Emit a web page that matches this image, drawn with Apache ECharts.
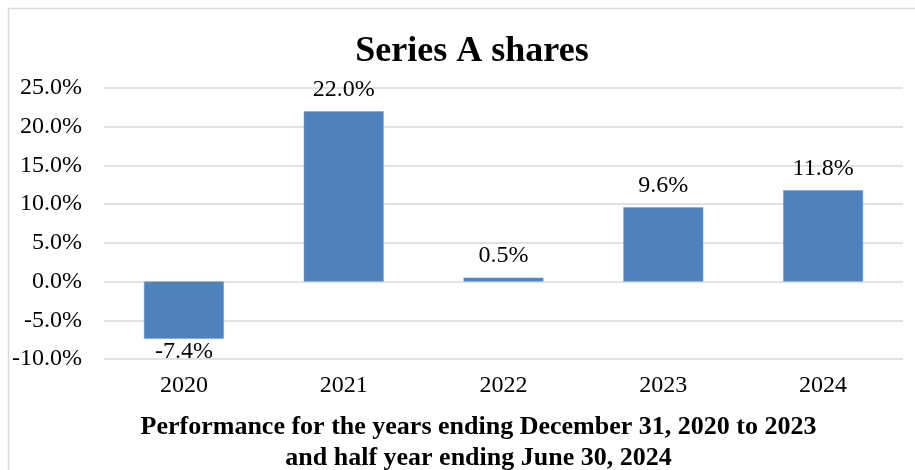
<!DOCTYPE html>
<html>
<head>
<meta charset="utf-8">
<script src="https://cdn.jsdelivr.net/npm/echarts@6/dist/echarts.min.js"></script>
<style>
  html, body { margin: 0; padding: 0; background: #fff; }
  #chart { width: 915px; height: 470px; }
</style>
</head>
<body>
<div id="chart"></div>
<script>
// 数据
const years = ['2020', '2021', '2022', '2023', '2024'];
const returns = [-7.4, 22.0, 0.5, 9.6, 11.8];
const yTicks = { min: -10, max: 25, interval: 5 };

const serif = '"Liberation Serif", "Times New Roman", serif';

function createChart(element, option) {
    let myChart = echarts.init(element); // 创建echart对象
    myChart.setOption(option); // 设置配置
    return myChart;
}

createChart(document.getElementById('chart'), {
    backgroundColor: '#fff',
    animation: false,
    title: {
        text: 'Series A shares',
        left: 467,
        top: 29,
        textAlign: 'center',
        textStyle: { fontFamily: serif, fontSize: 36, fontWeight: 'bold', color: '#000' }
    },
    graphic: [{
        type: 'rect',
        shape: { x: 8.5, y: 8.5, width: 930, height: 500 },
        style: { fill: null, stroke: '#d9d9d9', lineWidth: 1.5 },
        silent: true
    }],
    grid: { left: 104, right: 12, top: 88, bottom: 111, outerBoundsMode: 'none', containLabel: false },
    xAxis: {
        type: 'category',
        data: years,
        axisLine: { show: false, onZero: false },
        axisTick: { show: false },
        axisLabel: { fontFamily: serif, fontSize: 24, color: '#000', margin: 15 },
        name: 'Performance for the years ending December 31, 2020 to 2023\nand half year ending June 30, 2024',
        nameLocation: 'middle',
        nameGap: 53,
        nameTextStyle: {
            fontFamily: serif, fontSize: 26, fontWeight: 'bold', color: '#000',
            lineHeight: 31, padding: [0, 50, 0, 0], verticalAlign: 'top'
        }
    },
    yAxis: {
        type: 'value',
        min: yTicks.min,
        max: yTicks.max,
        interval: yTicks.interval,
        axisLine: { show: false },
        axisTick: { show: false },
        splitLine: { lineStyle: { color: '#d9d9d9', width: 1.5 } },
        axisLabel: {
            fontFamily: serif, fontSize: 24, color: '#000', margin: 22,
            formatter: v => v.toFixed(1) + '%'
        }
    },
    series: [{
        type: 'bar',
        data: returns.map(v => v < 0
            ? { value: v, label: { position: 'bottom', distance: 1 } }
            : v),
        barWidth: '50%',
        itemStyle: { color: '#4f81bd', borderColor: '#6f9ad0', borderWidth: 0.5 },
        label: {
            show: true,
            position: 'top',
            distance: 10,
            fontFamily: serif,
            fontSize: 24,
            color: '#000',
            formatter: p => p.value.toFixed(1) + '%'
        }
    }]
});
</script>
</body>
</html>
